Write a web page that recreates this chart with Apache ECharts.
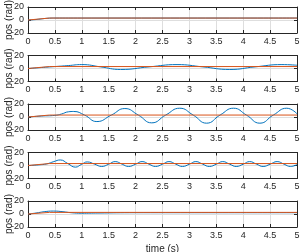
<!DOCTYPE html>
<html><head><meta charset="utf-8">
<script src="https://cdn.jsdelivr.net/npm/echarts@6/dist/echarts.min.js"></script>
<style>html,body{margin:0;padding:0;background:#fff}#c{width:301px;height:252px}</style>
</head><body><div id="c"></div>
<script>
// Hand-read values (time in s, position in rad)
const t1 = [0, 0.1, 0.2, 0.3, 0.4, 0.5, 1, 5];
const blue1 = [0, 0.4, 1.2, 2.2, 2.8, 3, 3, 3];
const t2 = [0, 0.25, 0.5, 0.75, 1.0, 1.35, 1.72, 2.25, 2.77, 3.25, 3.75, 4.22, 4.72, 5.0];
const blue2 = [0, 1.5, 3, 4.5, 6, 2.5, -1.5, 2.5, 6, 2.5, -1.5, 2.5, 6, 5];
const t3 = [0, 0.25, 0.5, 0.62, 0.75, 0.85, 1.05, 1.28, 1.55, 1.8, 2.05, 2.3, 2.56, 2.82, 3.07, 3.32, 3.57, 3.82, 4.06, 4.31, 4.56, 4.81, 5.0];
const blue3 = [0, 1.5, 2.5, 4.5, 8, 8.5, 3, -7, 3, 13, 3, -9, 3, 13.5, 3, -9.5, 3, 13.5, 3, -9.5, 3, 13.5, 5];
const t4 = [0, 0.2, 0.35, 0.48, 0.6, 0.74, 0.88, 1.0, 1.1, 1.24, 1.37, 1.5, 1.62, 1.75, 1.87, 2.0, 2.12, 2.25, 2.37, 2.5, 2.62, 2.75, 2.87, 3.0, 3.12, 3.25, 3.37, 3.5, 3.62, 3.75, 3.87, 4.0, 4.12, 4.25, 4.37, 4.5, 4.63, 4.76, 4.88, 5.0];
const blue4 = [0, 1, 2.5, 6, 8.5, 3, -2.5, 2, 5.5, 2, -1.5, 2, 6, 2, -1.5, 2, 6, 2, -1.5, 2, 6, 2, -1.5, 2, 6, 2, -1.5, 2, 6, 2, -1.5, 2, 6, 2, -1.5, 2, 6, 2, -1.5, 1.5];
const t5 = [0, 0.15, 0.3, 0.47, 0.65, 0.8, 1.0, 1.3, 2, 5];
const blue5 = [0, 1.5, 3.5, 4.5, 3.5, 2, 1.2, 1.5, 2, 2];
const tRef = [0, 0.4, 5];
const ref1 = [0, 3, 3];
const ref2 = [0, 3, 3];
const ref3 = [0, 3, 3];
const ref4 = [0, 3, 3];
const ref5 = [0, 2.5, 2.5];
const yTicks = [-20, 0, 20];
const xLabel = 'time (s)';
const yLabel = 'pos (rad)';

const blues = [[t1, blue1], [t2, blue2], [t3, blue3], [t4, blue4], [t5, blue5]];
const refs = [ref1, ref2, ref3, ref4, ref5];
const zip = (a, b) => a.map((v, i) => [v, b[i]]);

const FONT = 'Liberation Sans';
const tops = [7, 55.5, 104, 152.5, 201];
const grid = [], xAxis = [], yAxis = [], series = [];
tops.forEach((top, i) => {
  grid.push({left: 28, right: 4, top: top, height: 26, containLabel: false, outerBoundsMode: 'none'});
  const axLine = {show: true, onZero: false, lineStyle: {color: '#262626', width: 1}};
  const tick = {show: true, inside: true, length: 3, lineStyle: {color: '#262626'}};
  xAxis.push({type: 'value', gridIndex: i, min: 0, max: 5, interval: 0.5,
    axisLine: axLine, axisTick: tick,
    axisLabel: {fontFamily: FONT, fontSize: 9, color: '#262626', margin: 4},
    splitLine: {show: true, lineStyle: {color: '#dedede', width: 1}},
    name: i === 4 ? xLabel : '', nameLocation: 'middle', nameGap: 17, nameMoveOverlap: false,
    nameTextStyle: {fontFamily: FONT, fontSize: 10, color: '#262626'}});
  xAxis.push({type: 'value', gridIndex: i, position: 'top', min: 0, max: 5, interval: 0.5,
    axisLine: axLine, axisTick: tick,
    axisLabel: {show: false}, splitLine: {show: false}});
  yAxis.push({type: 'value', gridIndex: i, min: -20, max: 20, interval: 20,
    axisLine: axLine, axisTick: tick,
    axisLabel: {fontFamily: FONT, fontSize: 9, color: '#262626', margin: 4,
      formatter: v => yTicks.includes(v) ? String(v) : ''},
    splitLine: {show: true, lineStyle: {color: '#dedede', width: 1}},
    name: yLabel, nameLocation: 'middle', nameGap: 14, nameRotate: 90, nameMoveOverlap: false,
    nameTextStyle: {fontFamily: FONT, fontSize: 10, color: '#262626'}});
  yAxis.push({type: 'value', gridIndex: i, position: 'right', min: -20, max: 20, interval: 20,
    axisLine: axLine, axisTick: tick,
    axisLabel: {show: false}, splitLine: {show: false}});
  series.push({type: 'line', xAxisIndex: 2 * i, yAxisIndex: 2 * i, data: zip(blues[i][0], blues[i][1]),
    smooth: 0.5, showSymbol: false, lineStyle: {color: '#0072BD', width: 1}, z: 2});
  series.push({type: 'line', xAxisIndex: 2 * i, yAxisIndex: 2 * i, data: zip(tRef, refs[i]),
    smooth: false, showSymbol: false, lineStyle: {color: '#D95319', width: 1}, z: 3});
});

const chart = echarts.init(document.getElementById('c'), null, {renderer: 'canvas'});
chart.setOption({animation: false, backgroundColor: '#fff', grid, xAxis, yAxis, series});
</script></body></html>
